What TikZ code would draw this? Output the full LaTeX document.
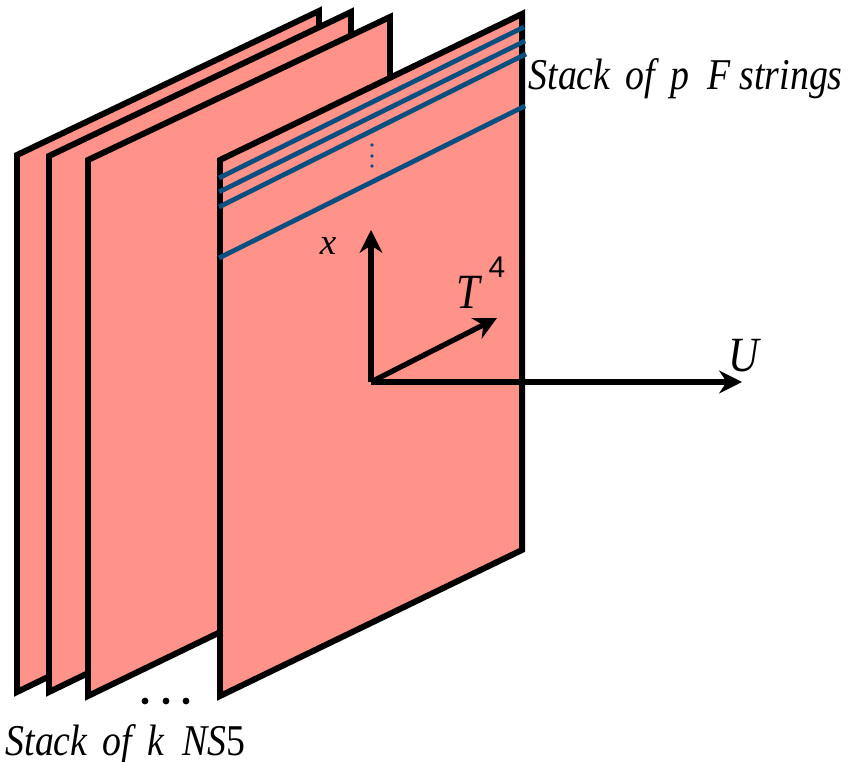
\documentclass[tikz,border=0pt]{standalone}
\usepackage{fontspec}
\setmainfont{Liberation Serif}
\newfontfamily\sansdigit{Liberation Sans}
\usetikzlibrary{arrows.meta}
\definecolor{branepink}{HTML}{FF9389}
\definecolor{stringblue}{HTML}{0B4F80}
\tikzset{
  brane/.style={draw=black,fill=branepink,line width=1.7pt,miter limit=10},
  fstring/.style={draw=stringblue,line width=1.35pt},
  axis/.style={draw=black,line width=1.5pt,-{Stealth[length=6.5pt,width=6.5pt]}},
  lab/.style={inner sep=0pt,font=\itshape\fontsize{12.5}{14}\selectfont,xscale=0.86,transform shape},
  biglab/.style={lab,font=\itshape\fontsize{14}{16}\selectfont}
}

\begin{document}
\begin{tikzpicture}[x=0.01cm,y=-0.01cm]
  \useasboundingbox (0,0) rectangle (849,762);

  % Stack of sheets
  \foreach \xa/\ya/\yb/\yc in {17/155/11/692,49/156/12/692,88/160/17/696,220/160/14/696}{
    \path[brane] (\xa,\ya) -- (\xa+302,\yb) -- (\xa+302,\yc-146) -- (\xa,\yc) -- cycle;
  }

  % Strings
  \foreach \n/\ya/\xb/\yb in {1/178/524/27,2/192/525/41,3/207/526/54,4/258/525/106}{
    \coordinate (sl\n) at (219,\ya);
    \coordinate (sr\n) at (\xb,\yb);
    \draw[fstring] (sl\n) -- (sr\n);
  }
  \foreach \y in {145,156,166}{
    \fill[stringblue] (372,\y) circle (1.8);
  }

  % Axes
  \coordinate (origin) at (371,382);
  \coordinate (xtip) at (371,230);
  \coordinate (ttip) at (497,318);
  \coordinate (utip) at (742,382);
  \draw[axis] (origin) -- (xtip);
  \draw[axis] (origin) -- (ttip);
  \draw[axis] (origin) -- (utip);

  % Labels
  \node[inner sep=0pt,font=\itshape\fontsize{10.5}{12}\selectfont] (xlab) at (328,246) {x};
  \node[biglab] (tlab) at (468,292) {T};
  \node[inner sep=0pt,font=\sansdigit\fontsize{8.5}{10}\selectfont] (fourlab) at (497,267) {4};
  \node[biglab] (ulab) at (744,356) {U};
  \node[lab,anchor=base west] (flab) at (528,90) {Stack\hspace{5pt}of\hspace{5pt}p\hspace{6pt}F strings};
  \node[lab,anchor=base west] (klab) at (5,755) {Stack\hspace{5pt}of\hspace{5pt}k\hspace{6pt}NS\upshape 5};

  % Dots under the stack
  \foreach \x in {145,166,186}{
    \fill (\x,701) circle (3.4);
  }
\end{tikzpicture}
\end{document}
